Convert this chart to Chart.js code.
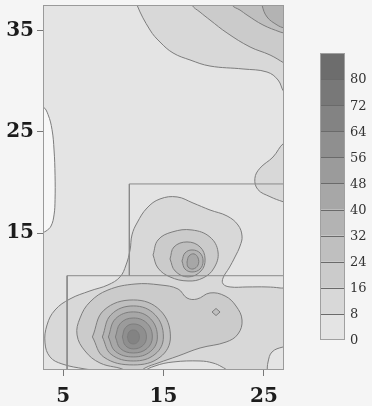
<!DOCTYPE html>
<html>
<head>
<meta charset="utf-8">
<script src="https://cdn.jsdelivr.net/npm/chart.js@4.4.1/dist/chart.umd.min.js"></script>
<style>
  html, body { margin: 0; padding: 0; background: #f5f5f5; }
  #wrap { width: 372px; height: 406px; }
</style>
</head>
<body>
<div id="wrap"><canvas id="contour" width="372" height="406"></canvas></div>
<script>
// axis ticks
const xTicks = [5, 15, 25];
const yTicks = [15, 25, 35];

// contour levels (colour bar) and band greys, lowest band first
const levels = [0, 8, 16, 24, 32, 40, 48, 56, 64, 72, 80, 88];
const bandColors = ["#e4e4e4", "#d8d8d8", "#cbcbcb", "#bfbfbf", "#b3b3b3",
  "#a7a7a7", "#9b9b9b", "#8f8f8f", "#838383", "#787878", "#6d6d6d"];
const belowZeroColor = "#f7f7f7";

// contour lines (x, y in plot units)
const belowZeroLeft = [
  {x: 2.0, y: 27.5}, {x: 3.0, y: 27.45}, {x: 3.5, y: 26.7}, {x: 3.9, y: 25.2},
  {x: 4.1, y: 23.2}, {x: 4.2, y: 20.7}, {x: 4.2, y: 18.3}, {x: 4.1, y: 16.8},
  {x: 3.8, y: 15.7}, {x: 3.3, y: 15.2}, {x: 3.0, y: 15.1}, {x: 2.0, y: 15.1}
];
const topRight8 = [
  {x: 12.2, y: 38.5}, {x: 12.36, y: 37.5}, {x: 13.66, y: 35.03}, {x: 14.65, y: 33.85},
  {x: 15.95, y: 32.77}, {x: 17.64, y: 32.08}, {x: 19.63, y: 31.48}, {x: 22.92, y: 31.19},
  {x: 25.31, y: 30.89}, {x: 26.41, y: 30.1}, {x: 27.0, y: 28.92}, {x: 28, y: 28.0},
  {x: 28, y: 38.5}
];
const topRight16 = [
  {x: 17.7, y: 38.5}, {x: 17.84, y: 37.5}, {x: 18.64, y: 36.8}, {x: 19.63, y: 36.02},
  {x: 21.33, y: 34.74}, {x: 23.62, y: 33.36}, {x: 25.61, y: 32.57}, {x: 27.0, y: 31.78},
  {x: 28, y: 31.2}, {x: 28, y: 38.5}
];
const topRight24 = [
  {x: 21.6, y: 38.5}, {x: 21.82, y: 37.5}, {x: 22.62, y: 37.0}, {x: 23.32, y: 36.51},
  {x: 24.91, y: 35.53}, {x: 26.61, y: 34.84}, {x: 27.0, y: 34.74}, {x: 28, y: 34.5},
  {x: 28, y: 38.5}
];
const topRight32 = [
  {x: 24.7, y: 38.5}, {x: 24.81, y: 37.5}, {x: 25.31, y: 36.32}, {x: 26.31, y: 35.53},
  {x: 27.0, y: 35.23}, {x: 28, y: 35.0}, {x: 28, y: 38.5}
];
const rightBump8 = [
  {x: 28, y: 24.2}, {x: 27.0, y: 23.9}, {x: 25.9, y: 22.5}, {x: 24.6, y: 21.4},
  {x: 24.1, y: 20.4}, {x: 24.4, y: 19.3}, {x: 25.6, y: 18.6}, {x: 26.9, y: 18.1},
  {x: 28, y: 17.8}
];
const cluster8 = [
  {x: 9.2, y: 0.5}, {x: 9.18, y: 1.3}, {x: 7.18, y: 1.6}, {x: 4.89, y: 2.1},
  {x: 3.7, y: 2.79}, {x: 3.2, y: 4.17}, {x: 3.4, y: 5.94}, {x: 4.2, y: 7.42},
  {x: 5.69, y: 8.51}, {x: 7.68, y: 9.3}, {x: 9.47, y: 9.89}, {x: 10.67, y: 10.68},
  {x: 11.27, y: 11.86}, {x: 11.67, y: 13.34}, {x: 11.86, y: 14.82}, {x: 12.36, y: 16.0},
  {x: 13.36, y: 17.48}, {x: 14.65, y: 18.37}, {x: 16.35, y: 18.57}, {x: 17.94, y: 17.97},
  {x: 19.63, y: 17.28}, {x: 21.33, y: 16.69}, {x: 22.42, y: 15.8}, {x: 22.82, y: 14.71},
  {x: 22.62, y: 13.73}, {x: 22.12, y: 12.65}, {x: 21.53, y: 11.56}, {x: 20.93, y: 10.58},
  {x: 20.93, y: 9.99}, {x: 21.63, y: 9.69}, {x: 23.32, y: 9.69}, {x: 25.31, y: 9.69},
  {x: 26.61, y: 9.59}, {x: 27.6, y: 9.39}, {x: 27.6, y: 3.77}, {x: 26.9, y: 3.77},
  {x: 25.81, y: 3.28}, {x: 25.41, y: 2.29}, {x: 25.31, y: 1.3}, {x: 25.2, y: 0.5},
  {x: 21.33, y: 0.5}, {x: 21.33, y: 1.4}, {x: 20.83, y: 1.8}, {x: 19.93, y: 2.19},
  {x: 18.64, y: 2.39}, {x: 15.95, y: 2.29}, {x: 14.16, y: 1.9}, {x: 13.06, y: 1.3},
  {x: 13.0, y: 0.5}
];
const mainPeak16 = [
  {x: 11.3, y: 0.5}, {x: 11.27, y: 1.4}, {x: 8.68, y: 2.19}, {x: 7.18, y: 3.38},
  {x: 6.39, y: 4.96}, {x: 6.69, y: 6.63}, {x: 7.68, y: 8.21}, {x: 9.47, y: 9.39},
  {x: 12.16, y: 9.98}, {x: 14.65, y: 9.89}, {x: 16.45, y: 9.49}, {x: 17.34, y: 8.6},
  {x: 18.34, y: 8.5}, {x: 19.63, y: 9.1}, {x: 21.13, y: 8.8}, {x: 22.22, y: 7.81},
  {x: 22.82, y: 6.43}, {x: 22.42, y: 5.05}, {x: 21.23, y: 4.26}, {x: 18.64, y: 3.67},
  {x: 16.45, y: 2.88}, {x: 14.45, y: 2.19}, {x: 13.16, y: 1.7}, {x: 12.76, y: 1.3},
  {x: 12.8, y: 0.5}
];
const mainPeak24 = [
  {x: 7.92, y: 4.76}, {x: 9.06, y: 7.39}, {x: 12.0, y: 8.41}, {x: 14.66, y: 7.39},
  {x: 15.69, y: 4.76}, {x: 14.66, y: 2.77}, {x: 12.0, y: 2.0}, {x: 9.06, y: 2.77}
];
const mainPeak32 = [
  {x: 8.91, y: 4.76}, {x: 9.78, y: 6.96}, {x: 12.0, y: 7.82}, {x: 14.15, y: 6.96},
  {x: 14.99, y: 4.76}, {x: 14.15, y: 3.05}, {x: 12.0, y: 2.39}, {x: 9.78, y: 3.05}
];
const mainPeak40 = [
  {x: 9.51, y: 4.76}, {x: 10.21, y: 6.54}, {x: 12.0, y: 7.23}, {x: 13.72, y: 6.54},
  {x: 14.39, y: 4.76}, {x: 13.72, y: 3.34}, {x: 12.0, y: 2.79}, {x: 10.21, y: 3.34}
];
const mainPeak48 = [
  {x: 10.21, y: 4.76}, {x: 10.71, y: 6.11}, {x: 12.0, y: 6.63}, {x: 13.36, y: 6.11},
  {x: 13.89, y: 4.76}, {x: 13.36, y: 3.62}, {x: 12.0, y: 3.18}, {x: 10.71, y: 3.62}
];
const mainPeak56 = [
  {x: 10.9, y: 4.76}, {x: 11.21, y: 5.68}, {x: 12.0, y: 6.04}, {x: 12.94, y: 5.68},
  {x: 13.3, y: 4.76}, {x: 12.94, y: 3.91}, {x: 12.0, y: 3.58}, {x: 11.21, y: 3.91}
];
const mainPeak64 = [
  {x: 11.4, y: 4.76}, {x: 11.57, y: 5.26}, {x: 12.0, y: 5.45}, {x: 12.43, y: 5.26},
  {x: 12.6, y: 4.76}, {x: 12.43, y: 4.26}, {x: 12.0, y: 4.07}, {x: 11.57, y: 4.26}
];
const northPeak16 = [
  {x: 13.96, y: 12.85}, {x: 14.45, y: 14.32}, {x: 15.85, y: 15.11}, {x: 17.84, y: 15.31},
  {x: 19.63, y: 14.61}, {x: 20.43, y: 13.14}, {x: 20.03, y: 11.56}, {x: 18.94, y: 10.58},
  {x: 17.44, y: 10.28}, {x: 15.65, y: 10.68}, {x: 14.45, y: 11.56}
];
const northPeak24 = [
  {x: 15.65, y: 12.45}, {x: 16.05, y: 13.64}, {x: 17.34, y: 14.13}, {x: 18.64, y: 13.64},
  {x: 19.14, y: 12.45}, {x: 18.74, y: 11.27}, {x: 17.44, y: 10.68}, {x: 16.15, y: 11.27}
];
const northPeak32 = [
  {x: 16.84, y: 12.25}, {x: 17.14, y: 13.04}, {x: 17.84, y: 13.34}, {x: 18.64, y: 13.04},
  {x: 18.94, y: 12.25}, {x: 18.64, y: 11.46}, {x: 17.84, y: 11.17}, {x: 17.14, y: 11.46}
];
const northPeak40 = [
  {x: 17.34, y: 12.15}, {x: 17.54, y: 12.75}, {x: 18.04, y: 12.95}, {x: 18.44, y: 12.55},
  {x: 18.44, y: 11.86}, {x: 17.94, y: 11.46}, {x: 17.44, y: 11.66}
];
const diamond24 = [
  {x: 19.83, y: 7.22}, {x: 20.23, y: 7.57}, {x: 20.63, y: 7.22}, {x: 20.23, y: 6.87}
];

// treatment plot outlines
const plotR1 = [{x: 27, y: 19.85}, {x: 11.6, y: 19.85}, {x: 11.6, y: 10.8}];
const plotR2 = [{x: 27, y: 10.8}, {x: 5.4, y: 10.8}, {x: 5.4, y: 1.5}];

const lineColor = "#7d7d7d";

const closeRing = (pts) => [...pts, pts[0]];
const bandColor = (level) => level < 0 ? belowZeroColor : bandColors[levels.indexOf(level)];

// paint order, lowest first
const regions = [
  [belowZeroLeft, -1, 0.4],
  [topRight8, 8, 0.4], [rightBump8, 8, 0.4], [cluster8, 8, 0.4],
  [topRight16, 16, 0.4], [mainPeak16, 16, 0.4], [closeRing(northPeak16), 16, 0.4],
  [topRight24, 24, 0.4], [closeRing(mainPeak24), 24, 0.4], [closeRing(northPeak24), 24, 0.4],
  [closeRing(diamond24), 24, 0],
  [topRight32, 32, 0.4], [closeRing(mainPeak32), 32, 0.4], [closeRing(northPeak32), 32, 0.4],
  [closeRing(mainPeak40), 40, 0.4], [closeRing(northPeak40), 40, 0.4],
  [closeRing(mainPeak48), 48, 0.4], [closeRing(mainPeak56), 56, 0.4],
  [closeRing(mainPeak64), 64, 0.4]
];

const datasets = regions.map(([pts, level, tension], i) => ({
  data: pts,
  showLine: true,
  pointRadius: 0,
  borderColor: lineColor,
  borderWidth: 1,
  tension: tension,
  fill: "shape",
  backgroundColor: bandColor(level),
  clip: 0,
  order: regions.length - i + 1,
}));

[plotR1, plotR2].forEach((pts) => {
  datasets.push({
    data: pts,
    showLine: true,
    pointRadius: 0,
    borderColor: "#8a8a8a",
    borderWidth: 1,
    tension: 0,
    fill: false,
    clip: 0,
    order: 0,
  });
});

const plotBackground = {
  id: "plotBackground",
  beforeDatasetsDraw(chart) {
    const { ctx, chartArea: a } = chart;
    ctx.save();
    ctx.fillStyle = bandColors[0];
    ctx.fillRect(a.left, a.top, a.right - a.left, a.bottom - a.top);
    ctx.restore();
  },
  afterDatasetsDraw(chart) {
    const { ctx, chartArea: a } = chart;
    ctx.save();
    ctx.strokeStyle = "#9a9a9a";
    ctx.lineWidth = 1;
    ctx.strokeRect(a.left + 0.5, a.top + 0.5, a.right - a.left - 1, a.bottom - a.top - 1);
    ctx.restore();
  },
};

const colorBar = {
  id: "colorBar",
  afterDraw(chart) {
    const { ctx } = chart;
    const left = 320, width = 25, top = 53, bottom = 340;
    const n = bandColors.length;
    const step = (bottom - top) / n;
    ctx.save();
    bandColors.forEach((c, i) => {
      ctx.fillStyle = c;
      ctx.fillRect(left, bottom - (i + 1) * step, width, step);
    });
    ctx.strokeStyle = "#6a6a6a";
    ctx.lineWidth = 1;
    for (let i = 1; i < n; i++) {
      const y = Math.round(bottom - i * step) + 0.5;
      ctx.beginPath();
      ctx.moveTo(left, y);
      ctx.lineTo(left + width, y);
      ctx.stroke();
    }
    ctx.strokeStyle = "#a0a0a0";
    ctx.strokeRect(left + 0.5, top + 0.5, width - 1, bottom - top - 1);
    ctx.fillStyle = "#333";
    ctx.font = "13px 'DejaVu Serif'";
    ctx.textAlign = "left";
    ctx.textBaseline = "middle";
    levels.slice(0, n).forEach((lv, i) => {
      ctx.fillText(String(lv), 350, bottom - i * step + 1);
    });
    ctx.restore();
  },
};

const tickFont = { family: "'DejaVu Serif'", size: 20, weight: "bold" };

new Chart(document.getElementById("contour"), {
  type: "scatter",
  data: { datasets },
  options: {
    responsive: false,
    animation: false,
    devicePixelRatio: 1,
    layout: { padding: { top: 5, right: 88, left: 0, bottom: 0 } },
    plugins: { legend: { display: false }, tooltip: { enabled: false } },
    scales: {
      x: {
        type: "linear",
        min: 3,
        max: 27,
        afterBuildTicks: (axis) => { axis.ticks = xTicks.map((v) => ({ value: v })); },
        afterFit: (axis) => { axis.height = 36; axis.paddingLeft = 0; axis.paddingRight = 0; },
        grid: { drawOnChartArea: false, tickLength: 6, tickColor: "#777" },
        border: { display: false },
        ticks: { font: tickFont, color: "#1c1c1c", padding: 9, maxRotation: 0 },
      },
      y: {
        type: "linear",
        min: 1.5,
        max: 37.5,
        afterBuildTicks: (axis) => { axis.ticks = yTicks.map((v) => ({ value: v })); },
        afterFit: (axis) => { axis.width = 43; axis.paddingTop = 0; axis.paddingBottom = 0; },
        grid: { drawOnChartArea: false, tickLength: 6, tickColor: "#777" },
        border: { display: false },
        ticks: { font: tickFont, color: "#1c1c1c", padding: 3 },
      },
    },
  },
  plugins: [plotBackground, colorBar],
});
</script>
</body>
</html>
